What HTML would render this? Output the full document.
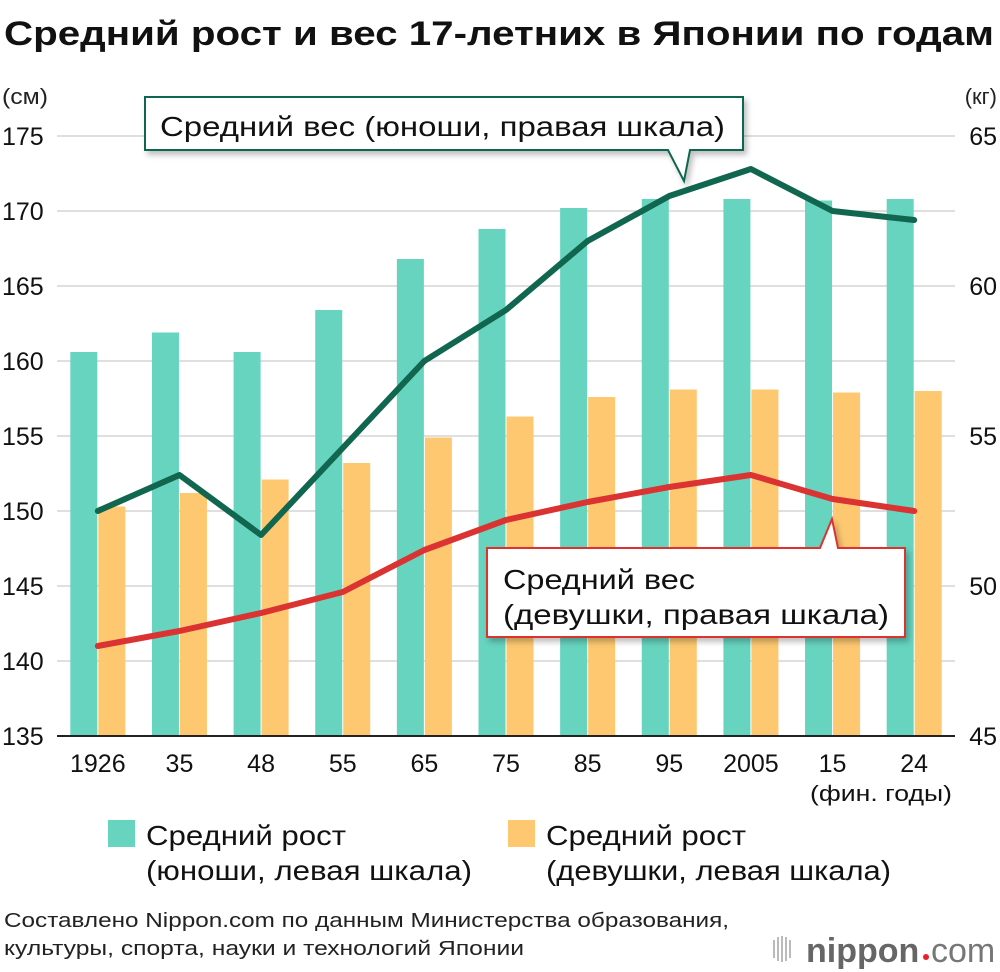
<!DOCTYPE html>
<html><head><meta charset="utf-8"><style>
html,body{margin:0;padding:0;background:#fff;}
svg{display:block;font-family:"Liberation Sans","DejaVu Sans",sans-serif;}
</style></head><body>
<svg id="c" width="1000" height="972" viewBox="0 0 1000 972" xmlns="http://www.w3.org/2000/svg">
<defs><filter id="sh" x="-5%" y="-20%" width="115%" height="150%"><feDropShadow dx="3" dy="4" stdDeviation="3" flood-color="#000" flood-opacity="0.25"/></filter></defs>
<text x="4" y="45" font-size="34" font-weight="bold" fill="#111" textLength="990" lengthAdjust="spacingAndGlyphs">Средний рост и вес 17-летних в Японии по годам</text>
<text x="2" y="104" font-size="22" fill="#222" textLength="46" lengthAdjust="spacingAndGlyphs">(см)</text>
<text x="997" y="104" font-size="22" fill="#222" text-anchor="end">(кг)</text>
<g id="grid"></g><g id="bars"></g><g id="lines"></g><g id="axes"></g>
<g>
<path d="M145,97 H743 V150 H690 L684,181 L668,150 H145 Z" fill="#fff" stroke="#11664f" stroke-width="2" filter="url(#sh)"/>
<text x="160" y="136" font-size="28" fill="#111" textLength="565" lengthAdjust="spacingAndGlyphs">Средний вес (юноши, правая шкала)</text>
</g>
<g>
<path d="M487,548 H820 L832,519 L838,548 H905 V637 H487 Z" fill="#fff" stroke="#db3232" stroke-width="2" filter="url(#sh)"/>
<text x="503" y="589" font-size="28" fill="#111" textLength="192" lengthAdjust="spacingAndGlyphs">Средний вес</text>
<text x="503" y="624" font-size="28" fill="#111" textLength="386" lengthAdjust="spacingAndGlyphs">(девушки, правая шкала)</text>
</g>
<text x="952" y="801" font-size="22" fill="#111" text-anchor="end" textLength="142" lengthAdjust="spacingAndGlyphs">(фин. годы)</text>
<g>
<rect x="108" y="820" width="27" height="27" fill="#66d4bf"/>
<text x="146" y="845" font-size="28" fill="#111" textLength="200" lengthAdjust="spacingAndGlyphs">Средний рост</text>
<text x="146" y="880" font-size="28" fill="#111" textLength="326" lengthAdjust="spacingAndGlyphs">(юноши, левая шкала)</text>
</g>
<g>
<rect x="508" y="820" width="27" height="27" fill="#fdc870"/>
<text x="546" y="845" font-size="28" fill="#111" textLength="200" lengthAdjust="spacingAndGlyphs">Средний рост</text>
<text x="546" y="880" font-size="28" fill="#111" textLength="345" lengthAdjust="spacingAndGlyphs">(девушки, левая шкала)</text>
</g>
<text x="4" y="927" font-size="20" fill="#222" textLength="725" lengthAdjust="spacingAndGlyphs">Составлено Nippon.com по данным Министерства образования,</text>
<text x="4" y="955" font-size="20" fill="#222" textLength="520" lengthAdjust="spacingAndGlyphs">культуры, спорта, науки и технологий Японии</text>
<g>
<g stroke="#bbb" stroke-width="2"><line x1="774" y1="940" x2="774" y2="958"/><line x1="778" y1="937" x2="778" y2="961"/><line x1="782" y1="936" x2="782" y2="962"/><line x1="786" y1="937" x2="786" y2="961"/><line x1="790" y1="940" x2="790" y2="958"/></g>
<text x="806" y="962" font-size="34" font-weight="bold" fill="#666">nippon</text>
<circle cx="926" cy="957" r="3" fill="#e8202a"/>
<text x="931" y="962" font-size="34" fill="#777">com</text>
</g>
</svg>
<script>
const categories=["1926","35","48","55","65","75","85","95","2005","15","24"];
const boysHeight=[160.6,161.9,160.6,163.4,166.8,168.8,170.2,170.8,170.8,170.7,170.8];
const girlsHeight=[150.3,151.2,152.1,153.2,154.9,156.3,157.6,158.1,158.1,157.9,158.0];
const boysWeight=[52.5,53.7,51.7,54.6,57.5,59.2,61.5,63.0,63.9,62.5,62.2];
const girlsWeight=[48.0,48.5,49.1,49.8,51.2,52.2,52.8,53.3,53.7,52.9,52.5];
const leftTicks=[135,140,145,150,155,160,165,170,175];
const rightTicks=[45,50,55,60,65];
const NS="http://www.w3.org/2000/svg";
const X0=57,X1=955,Y0=736,Y1=136;
const step=(X1-X0)/categories.length;
const xc=i=>X0+step*(i+0.5);
const yL=v=>Y0-(v-135)/(175-135)*(Y0-Y1);
const yR=v=>Y0-(v-45)/(65-45)*(Y0-Y1);
function mk(tag,attrs,parent){const e=document.createElementNS(NS,tag);for(const k in attrs)e.setAttribute(k,attrs[k]);parent.appendChild(e);return e;}
const grid=document.getElementById('grid'),bars=document.getElementById('bars'),lines=document.getElementById('lines'),axes=document.getElementById('axes');
leftTicks.forEach(t=>{
 const l=mk('line',{x1:X0,x2:X1,y1:yL(t),y2:yL(t),stroke:t===135?'#222':'#ccc','stroke-width':t===135?2:1.2},t===135?axes:grid);
 
 
 const tx=mk('text',{x:2,y:yL(t)+9,'font-size':25,fill:'#111'},axes);tx.textContent=t;
 
 
});
rightTicks.forEach(t=>{
 const tx=mk('text',{x:997,y:yR(t)+9,'font-size':25,fill:'#111','text-anchor':'end'},axes);tx.textContent=t;
 
 
});
const bw=27;
categories.forEach((c,i)=>{
 const x=xc(i);
 const b=mk('rect',{x:x-bw-0.5,y:yL(boysHeight[i]),width:bw,height:Y0-yL(boysHeight[i]),fill:'#66d4bf'},bars);
 
 
 const g=mk('rect',{x:x+0.5,y:yL(girlsHeight[i]),width:bw,height:Y0-yL(girlsHeight[i]),fill:'#fdc870'},bars);
 
 
 const tx=mk('text',{x:x,y:772,'font-size':25,fill:'#111','text-anchor':'middle'},axes);tx.textContent=c;
 
 
});
const pb=mk('polyline',{points:boysWeight.map((v,i)=>xc(i)+','+yR(v)).join(' '),fill:'none',stroke:'#11664f','stroke-width':6,'stroke-linejoin':'round','stroke-linecap':'round'},lines);


const pg=mk('polyline',{points:girlsWeight.map((v,i)=>xc(i)+','+yR(v)).join(' '),fill:'none',stroke:'#db3232','stroke-width':6,'stroke-linejoin':'round','stroke-linecap':'round'},lines);


</script>
</body></html>
